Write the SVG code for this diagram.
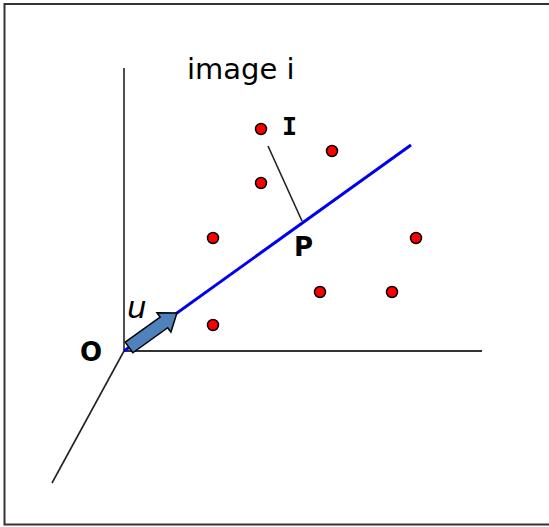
<svg xmlns="http://www.w3.org/2000/svg" width="549" height="527" viewBox="0 0 549 527">
<style>
.axis{stroke:#222;stroke-width:1.6;fill:none}
.pt{fill:#ff0000;stroke:#000;stroke-width:1.5}
.lbl{font-family:"DejaVu Sans",sans-serif;fill:#000}
.b{font-weight:bold}
</style>
<rect x="4.5" y="4" width="550" height="520.5" fill="#fff" stroke="#333" stroke-width="2"/>
<g id="connectors">
<line class="axis" x1="124" y1="68" x2="124" y2="351"/>
<line class="axis" x1="124" y1="351" x2="482" y2="351" style="stroke:#333;stroke-width:2.2"/>
<line class="axis" x1="124" y1="351" x2="52" y2="483"/>
<line x1="124" y1="351" x2="411" y2="145" stroke="#0000ee" stroke-width="3"/>
<line class="axis" x1="268" y1="146" x2="302" y2="221"/>
</g>
<g id="arrow-u">
<polygon transform="translate(129,347.5) rotate(-35.67)" points="0,-6.5 43,-6.5 43,-12 59,0 43,12 43,6.5 0,6.5" fill="#4f81bd" stroke="#000" stroke-width="1.5" stroke-linejoin="miter"/>
<text class="lbl" x="127" y="318" font-size="31" font-style="italic">u</text>
</g>
<g id="points">
<circle class="pt" cx="261" cy="129" r="5.5"/>
<circle class="pt" cx="332" cy="151" r="5.5"/>
<circle class="pt" cx="261" cy="183" r="5.5"/>
<circle class="pt" cx="213" cy="238" r="5.5"/>
<circle class="pt" cx="416" cy="238" r="5.5"/>
<circle class="pt" cx="320" cy="292" r="5.5"/>
<circle class="pt" cx="392" cy="292" r="5.5"/>
<circle class="pt" cx="213" cy="325" r="5.5"/>
</g>
<g id="labels">
<text class="lbl" x="187" y="79" font-size="29">image i</text>
<text class="lbl b" x="282" y="135" font-size="25" style="font-family:'DejaVu Sans Mono',monospace">I</text>
<text class="lbl b" x="294" y="255.5" font-size="26">P</text>
<text class="lbl b" x="80" y="361" font-size="26">O</text>
</g>
</svg>
